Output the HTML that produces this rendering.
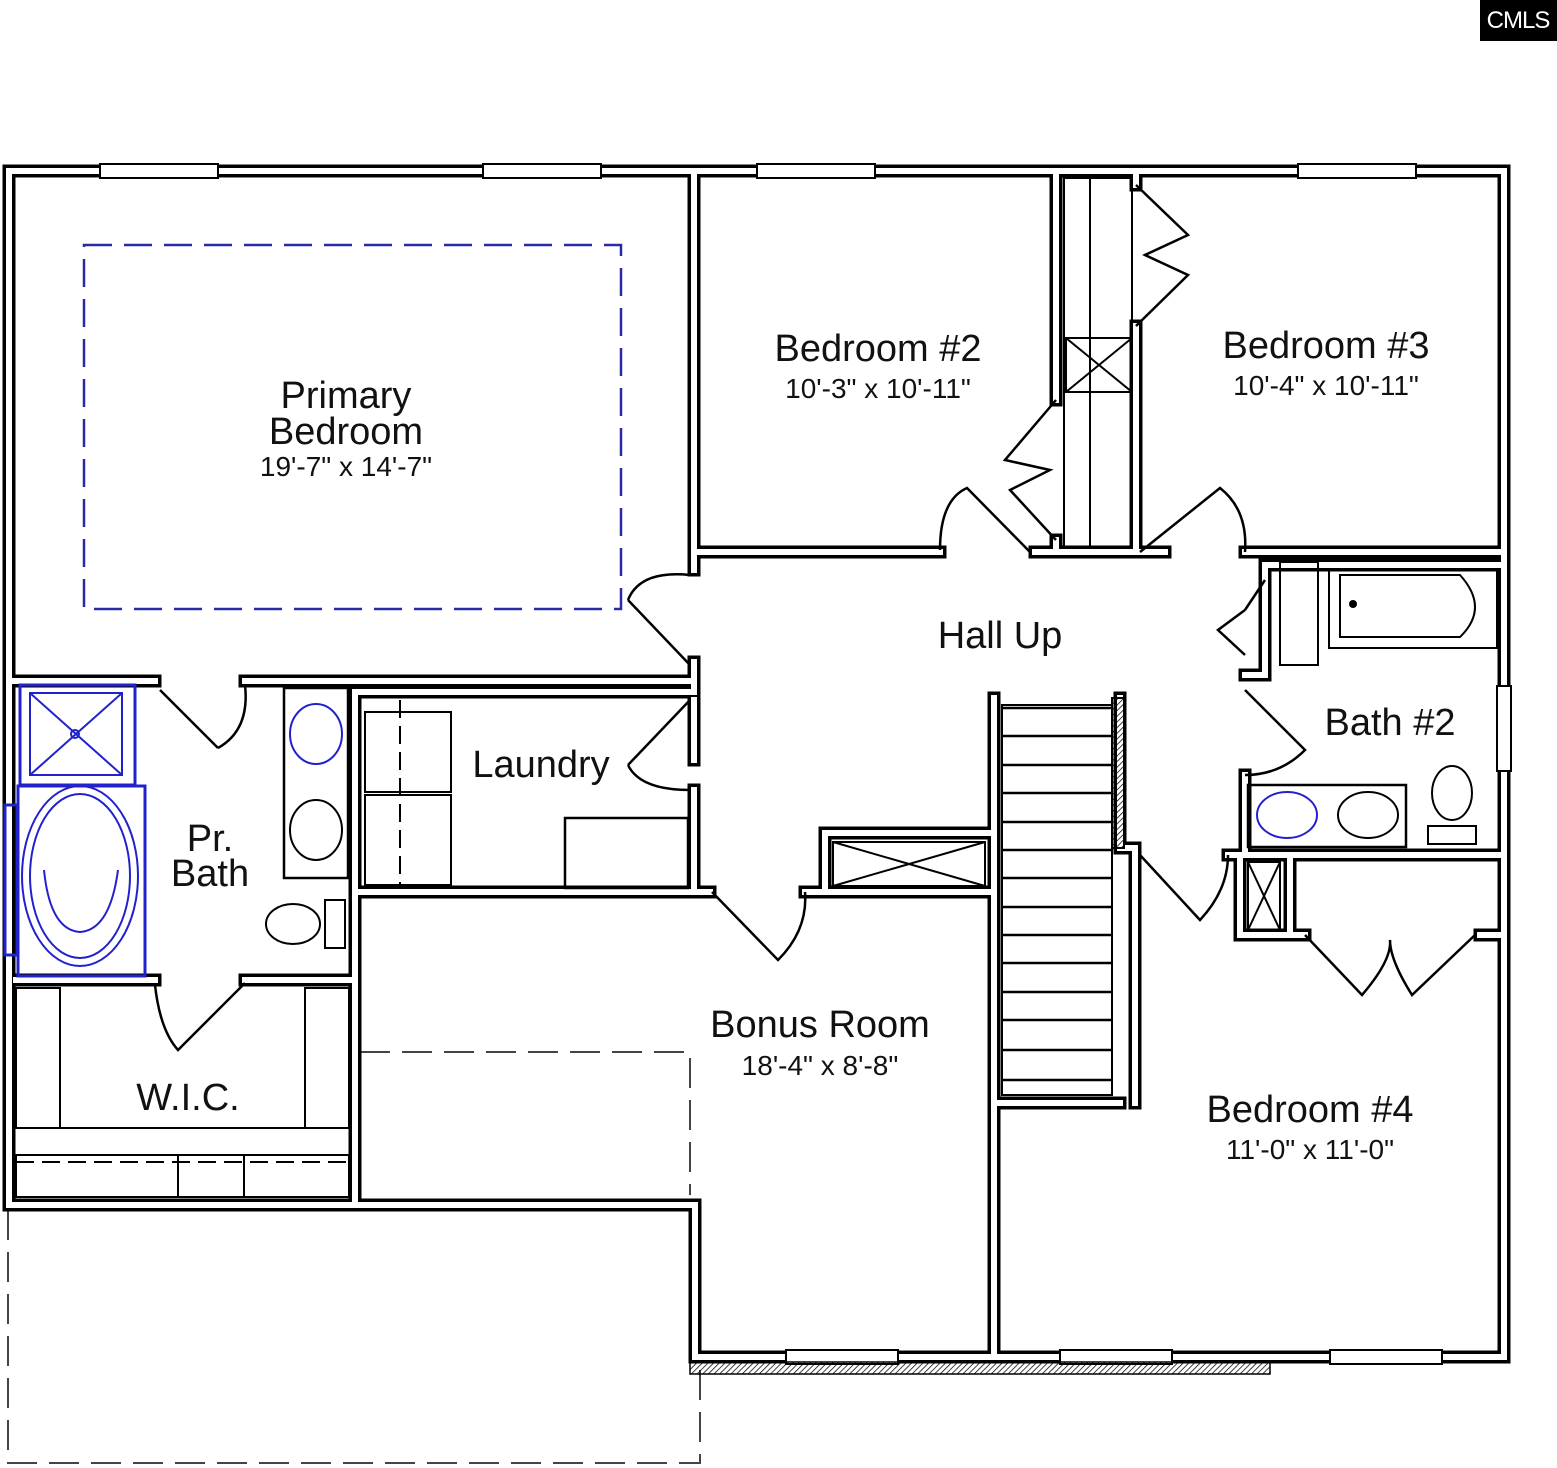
<!DOCTYPE html>
<html><head><meta charset="utf-8"><style>
html,body{margin:0;padding:0;background:#fff;width:1557px;height:1468px;overflow:hidden}
svg{display:block}
text{font-family:"Liberation Sans",sans-serif;fill:#111}
</style></head><body>
<svg width="1557" height="1468" viewBox="0 0 1557 1468" xmlns="http://www.w3.org/2000/svg">
<defs>
<g id="walls" fill="none">
 <!-- outer -->
 <path d="M9,1205 V171 H1504 V1357 H695"/>
 <path d="M9,1205 H695 V1357"/>
 <!-- primary right wall -->
 <path d="M694,171 V570"/>
 <path d="M694,662 V690"/>
 <!-- bedroom 2 bottom -->
 <path d="M694,552 H940"/>
 <path d="M1035,552 H1165"/>
 <path d="M1245,552 H1504"/>
 <!-- closet walls -->
 <path d="M1056,171 V400"/>
 <path d="M1056,540 V552"/>
 <path d="M1136,171 V185"/>
 <path d="M1136,326 V552"/>
 <!-- primary bottom -->
 <path d="M9,681 H155"/>
 <path d="M245,681 H694"/>
 <!-- laundry -->
 <path d="M694,700 V760"/>
 <path d="M360,692 H694"/>
 <path d="M694,790 V890"/>
 <path d="M355,892 H710"/>
 <path d="M355,692 V1205"/>
 <!-- pr bath -->
 <path d="M16,980 H155"/>
 <path d="M245,980 H355"/>
 <!-- hall lower -->
 <path d="M805,892 H825 V833 H994"/>
 <path d="M994,892 H825"/>
 <path d="M994,698 V1355"/>
 <path d="M994,1103 H1120"/>
 <path d="M1120,698 V848 H1135 V1103"/>
 <!-- bath 2 -->
 <path d="M1265,565 H1504"/>
 <path d="M1245,675 H1265 V565"/>
 <path d="M1245,775 V855 H1504"/>
 <path d="M1228,855 H1240 V935 H1305"/>
 <path d="M1480,935 H1504"/>
 <path d="M1290,860 V930"/>
</g>
<pattern id="hatch" width="4" height="4" patternUnits="userSpaceOnUse" patternTransform="rotate(45)"><line x1="0" y1="0" x2="0" y2="4" stroke="#000" stroke-width="1.5"/></pattern>
</defs>

<!-- logo -->
<rect x="1480" y="0" width="77" height="41" fill="#000"/>
<text x="1518" y="28" text-anchor="middle" font-size="24" style="fill:#fff" letter-spacing="-1">CMLS</text>

<!-- dashed outlines -->
<rect x="84" y="245" width="537" height="364" fill="none" stroke="#2a2aa8" stroke-width="2.5" stroke-dasharray="28,12"/>
<path d="M8,1210 V1463 H700 V1362" fill="none" stroke="#444" stroke-width="2" stroke-dasharray="30,12"/>
<path d="M360,1052 H690 V1195" fill="none" stroke="#444" stroke-width="2" stroke-dasharray="30,12"/>

<!-- walls -->
<use href="#walls" stroke="#000" stroke-width="13" stroke-linecap="square"/>
<use href="#walls" stroke="#fff" stroke-width="6" stroke-linecap="square"/>

<!-- windows -->
<g fill="#fff" stroke="#000" stroke-width="2">
 <rect x="100" y="164" width="118" height="14"/>
 <rect x="483" y="164" width="118" height="14"/>
 <rect x="757" y="164" width="118" height="14"/>
 <rect x="1298" y="164" width="118" height="14"/>
 <rect x="1497" y="686" width="14" height="85"/>
 <rect x="786" y="1350" width="112" height="14"/>
 <rect x="1060" y="1350" width="112" height="14"/>
 <rect x="1330" y="1350" width="112" height="14"/>
</g>
<rect x="690" y="1362" width="580" height="12" fill="url(#hatch)" stroke="#000" stroke-width="1.5"/>

<!-- doors -->
<g fill="none" stroke="#000" stroke-width="2.5">
 <path d="M160,690 L218,748 M245,685 Q250,730 218,748"/>
 <path d="M690,665 L628,600 M690,575 Q640,570 628,600"/>
 <path d="M690,700 L628,765 M690,790 Q640,790 628,765"/>
 <path d="M940,550 Q940,500 967,488 L1030,552"/>
 <path d="M1140,552 L1220,488 Q1248,510 1245,552"/>
 <path d="M1245,610 L1218,630 L1245,655 M1265,580 L1245,610"/>
 <path d="M1245,690 L1305,750 Q1280,775 1245,775"/>
 <path d="M1140,855 L1200,920 Q1228,890 1228,855"/>
 <path d="M712,892 L778,960 Q808,930 805,892"/>
 <path d="M155,985 Q160,1030 178,1050 L245,983"/>
 <path d="M1305,935 L1362,995 Q1392,960 1390,940 Q1390,960 1412,995 L1475,935"/>
 <path d="M1056,400 L1005,460 L1050,470 L1010,490 L1056,540"/>
 <path d="M1136,185 L1188,235 L1145,255 L1188,275 L1136,326"/>
</g>

<!-- closet shelves -->
<g fill="none" stroke="#000" stroke-width="2">
 <rect x="1064" y="178" width="68" height="370"/>
 <line x1="1090" y1="178" x2="1090" y2="548"/>
 <rect x="1066" y="338" width="66" height="54"/>
 <path d="M1066,338 L1132,392 M1132,338 L1066,392"/>
 <rect x="833" y="842" width="152" height="44"/>
 <path d="M833,842 L985,886 M985,842 L833,886"/>
 <rect x="1248" y="862" width="32" height="68"/>
 <path d="M1248,862 L1280,930 M1280,862 L1248,930"/>
 <rect x="1280" y="562" width="38" height="103"/>
 <!-- stairs -->
 <rect x="1002" y="705" width="110" height="390"/>
 <rect x="1112" y="698" width="12" height="150" fill="url(#hatch)"/>
</g>
<g stroke="#000" stroke-width="2.5">
 <line x1="1002" y1="708" x2="1112" y2="708"/><line x1="1002" y1="736" x2="1112" y2="736"/>
 <line x1="1002" y1="765" x2="1112" y2="765"/><line x1="1002" y1="793" x2="1112" y2="793"/>
 <line x1="1002" y1="822" x2="1112" y2="822"/><line x1="1002" y1="850" x2="1112" y2="850"/>
 <line x1="1002" y1="878" x2="1112" y2="878"/><line x1="1002" y1="907" x2="1112" y2="907"/>
 <line x1="1002" y1="935" x2="1112" y2="935"/><line x1="1002" y1="963" x2="1112" y2="963"/>
 <line x1="1002" y1="992" x2="1112" y2="992"/><line x1="1002" y1="1020" x2="1112" y2="1020"/>
 <line x1="1002" y1="1050" x2="1112" y2="1050"/><line x1="1002" y1="1080" x2="1112" y2="1080"/>
</g>

<!-- laundry -->
<g fill="none" stroke="#000" stroke-width="2">
 <rect x="365" y="712" width="86" height="80"/><rect x="365" y="795" width="86" height="90"/>
 <line x1="400" y1="700" x2="400" y2="885" stroke-dasharray="18,8"/>
 <rect x="565" y="818" width="123" height="70" stroke-width="2.5"/>
</g>

<!-- pr bath -->
<g fill="none" stroke="#2222cc" stroke-width="2">
 <rect x="20" y="685" width="115" height="100" stroke-width="3"/>
 <rect x="30" y="693" width="92" height="82"/>
 <path d="M30,693 L122,775 M122,693 L30,775"/>
 <circle cx="75" cy="734" r="4"/>
 <rect x="18" y="786" width="127" height="190" stroke-width="3"/>
 <ellipse cx="80" cy="876" rx="58" ry="90"/>
 <ellipse cx="80" cy="876" rx="50" ry="82"/>
 <path d="M44,870 Q50,930 80,932 Q110,930 118,870"/>
 <rect x="5" y="805" width="12" height="150" stroke-width="3"/>
 <ellipse cx="316" cy="734" rx="26" ry="30"/>
</g>
<g fill="none" stroke="#000" stroke-width="2">
 <rect x="284" y="688" width="64" height="190" stroke-width="2.5"/>
 <ellipse cx="316" cy="830" rx="26" ry="30"/>
 <ellipse cx="293" cy="924" rx="27" ry="20"/>
 <rect x="325" y="900" width="20" height="48"/>
 <!-- wic -->
 <rect x="16" y="988" width="44" height="140"/>
 <rect x="305" y="988" width="44" height="140"/>
 <line x1="16" y1="1128" x2="349" y2="1128"/>
 <line x1="16" y1="1162" x2="349" y2="1162" stroke-dasharray="18,8"/>
 <rect x="16" y="1155" width="333" height="42"/>
 <rect x="178" y="1155" width="66" height="42"/>
</g>

<!-- bath 2 fixtures -->
<g fill="none" stroke="#000" stroke-width="2">
 <rect x="1329" y="570" width="168" height="78"/>
 <path d="M1340,575 H1460 Q1490,608 1460,637 H1340 Z"/>
 <rect x="1248" y="785" width="158" height="62" stroke-width="2.5"/>
 <ellipse cx="1368" cy="815" rx="30" ry="23"/>
 <ellipse cx="1452" cy="793" rx="20" ry="27"/>
 <rect x="1428" y="826" width="48" height="18"/>
</g>
<circle cx="1353" cy="604" r="4" fill="#000"/>
<ellipse cx="1287" cy="815" rx="30" ry="23" fill="none" stroke="#2222cc" stroke-width="2"/>

<!-- labels -->
<g font-size="38" text-anchor="middle">
 <text x="346" y="408">Primary</text>
 <text x="346" y="444">Bedroom</text>
 <text x="878" y="361">Bedroom #2</text>
 <text x="1326" y="358">Bedroom #3</text>
 <text x="1000" y="648">Hall Up</text>
 <text x="541" y="777">Laundry</text>
 <text x="1390" y="735">Bath #2</text>
 <text x="210" y="851">Pr.</text>
 <text x="210" y="886">Bath</text>
 <text x="188" y="1110">W.I.C.</text>
 <text x="820" y="1037">Bonus Room</text>
 <text x="1310" y="1122">Bedroom #4</text>
</g>
<g font-size="28" text-anchor="middle">
 <text x="346" y="476">19'-7" x 14'-7"</text>
 <text x="878" y="398">10'-3" x 10'-11"</text>
 <text x="1326" y="395">10'-4" x 10'-11"</text>
 <text x="820" y="1075">18'-4" x 8'-8"</text>
 <text x="1310" y="1159">11'-0" x 11'-0"</text>
</g>
</svg>
</body></html>
